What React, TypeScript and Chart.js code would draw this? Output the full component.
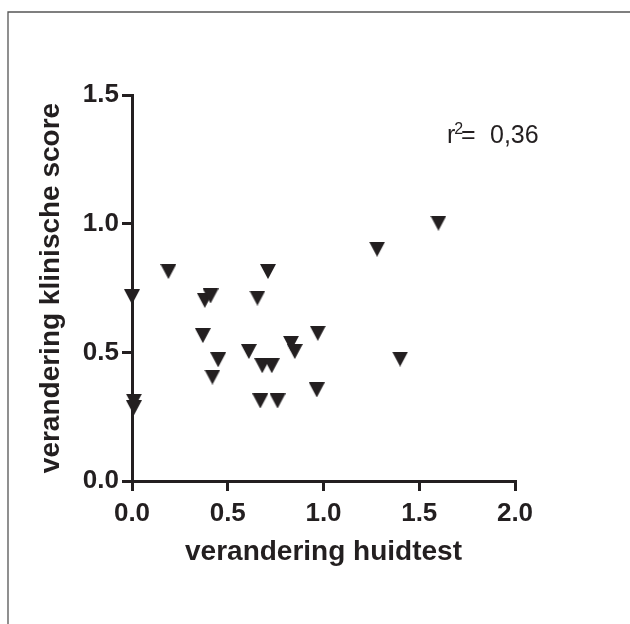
import React, { useEffect, useRef } from "react";
import { Chart, registerables } from "chart.js";

Chart.register(...registerables);

// verandering huidtest (x) and verandering klinische score (y), paired
const huidtest = [0.0, 0.01, 0.01, 0.19, 0.38, 0.41, 0.37, 0.45, 0.42, 0.71, 0.655, 0.61, 0.68, 0.73, 0.67, 0.76, 0.83, 0.85, 0.97, 0.965, 1.28, 1.4, 1.6];
const klinischeScore = [0.716, 0.31, 0.285, 0.814, 0.702, 0.719, 0.565, 0.471, 0.404, 0.814, 0.711, 0.503, 0.448, 0.448, 0.311, 0.311, 0.535, 0.503, 0.574, 0.354, 0.901, 0.474, 1.002];

const xTicks = [0, 0.5, 1.0, 1.5, 2.0];
const yTicks = [0, 0.5, 1.0, 1.5];

const xTitle = "verandering huidtest";
const yTitle = "verandering klinische score";
const r2Label = "0,36";

const INK = "#231f20";
const FONT = "'Liberation Sans', Arial, Helvetica, sans-serif";

function makeTriangle(): HTMLCanvasElement {
  const c = document.createElement("canvas");
  c.width = 16;
  c.height = 15;
  const g = c.getContext("2d")!;
  g.fillStyle = INK;
  g.beginPath();
  g.moveTo(0, 0);
  g.lineTo(16, 0);
  g.lineTo(8, 15);
  g.closePath();
  g.fill();
  return c;
}

const decorPlugin = {
  id: "decor",
  beforeDraw(chart: any) {
    const ctx = chart.ctx;
    ctx.save();
    ctx.fillStyle = "#ffffff";
    ctx.fillRect(0, 0, chart.width, chart.height);
    ctx.strokeStyle = "#555555";
    ctx.lineWidth = 1.3;
    ctx.beginPath();
    ctx.moveTo(8, chart.height);
    ctx.lineTo(8, 12);
    ctx.lineTo(chart.width, 12);
    ctx.stroke();
    ctx.restore();
  },
  afterDraw(chart: any) {
    const ctx = chart.ctx;
    ctx.save();
    ctx.fillStyle = INK;
    ctx.textBaseline = "alphabetic";
    ctx.textAlign = "left";
    ctx.font = `25px ${FONT}`;
    const baseY = 143;
    ctx.fillText("r", 447, baseY);
    const rw = ctx.measureText("r").width;
    ctx.font = `16px ${FONT}`;
    ctx.fillText("2", 447 + rw - 1, baseY - 9);
    ctx.font = `25px ${FONT}`;
    ctx.fillText("=", 461, baseY);
    ctx.fillText(r2Label, 490, baseY);
    ctx.restore();
  },
};

export default function App() {
  const ref = useRef<HTMLCanvasElement>(null);

  useEffect(() => {
    if (!ref.current) return;
    const tri = makeTriangle();
    const points = huidtest.map((x, i) => ({ x, y: klinischeScore[i] }));
    const chart = new Chart(ref.current, {
      type: "scatter",
      data: {
        datasets: [
          {
            data: points,
            pointStyle: tri as any,
            pointRadius: 8,
            pointHoverRadius: 8,
            backgroundColor: INK,
            borderColor: INK,
            clip: false as any,
          },
        ],
      },
      plugins: [decorPlugin],
      options: {
        animation: false,
        responsive: false,
        events: [],
        layout: { padding: { top: 95, right: 115, left: 0, bottom: 0 } },
        plugins: { legend: { display: false }, tooltip: { enabled: false } },
        scales: {
          x: {
            type: "linear",
            min: 0,
            max: 2,
            afterFit: (s: any) => {
              s.height = 143;
            },
            afterBuildTicks: (s: any) => {
              s.ticks = xTicks.map((v) => ({ value: v }));
            },
            border: { display: true, color: INK, width: 3 },
            grid: { drawOnChartArea: false, drawTicks: true, tickLength: 10, color: INK, lineWidth: 3 },
            ticks: {
              color: INK,
              padding: 7,
              maxRotation: 0,
              font: { family: FONT, size: 26, weight: "bold" },
              callback: (v: any) => Number(v).toFixed(1),
            },
            title: {
              display: true,
              text: xTitle,
              color: INK,
              font: { family: FONT, size: 28, weight: "bold" },
              padding: { top: 0, bottom: 55 },
            },
          },
          y: {
            type: "linear",
            min: 0,
            max: 1.5,
            afterFit: (s: any) => {
              s.width = 132;
            },
            afterBuildTicks: (s: any) => {
              s.ticks = yTicks.map((v) => ({ value: v }));
            },
            border: { display: true, color: INK, width: 3 },
            grid: { drawOnChartArea: false, drawTicks: true, tickLength: 10, color: INK, lineWidth: 3 },
            ticks: {
              color: INK,
              padding: 3,
              font: { family: FONT, size: 26, weight: "bold" },
              callback: (v: any) => Number(v).toFixed(1),
            },
            title: {
              display: true,
              text: yTitle,
              color: INK,
              font: { family: FONT, size: 28, weight: "bold" },
              padding: { top: 34, bottom: 0 },
            },
          },
        },
      },
    });
    return () => chart.destroy();
  }, []);

  return (
    <div style={{ position: "fixed", left: 0, top: 0, width: 630, height: 624, background: "#fff" }}>
      <canvas ref={ref} width={630} height={624} />
    </div>
  );
}
